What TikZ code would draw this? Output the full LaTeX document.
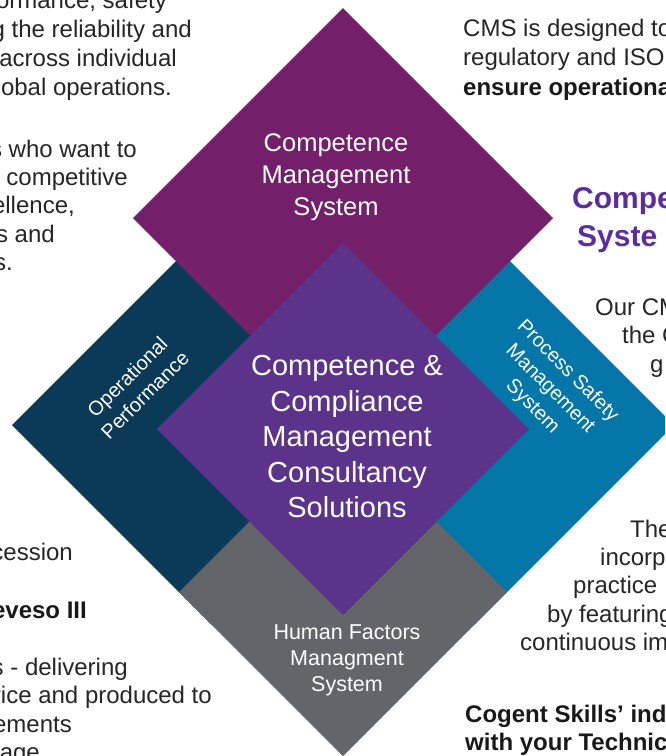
\documentclass[tikz,border=0pt]{standalone}
\usepackage{fontspec}
\setmainfont{Liberation Sans}
\definecolor{topPurple}{HTML}{731F6A}
\definecolor{midPurple}{HTML}{5C338A}
\definecolor{navyBlue}{HTML}{0A3A58}
\definecolor{oceanBlue}{HTML}{0476A8}
\definecolor{slateGrey}{HTML}{63656A}
\definecolor{headPurple}{HTML}{5B2D9E}
\definecolor{txt}{HTML}{262626}
\tikzset{
  leftcut/.style={anchor=base east, text=txt, inner sep=0pt, font=\fontsize{24}{29}\selectfont},
  rightcut/.style={anchor=base west, text=txt, inner sep=0pt, font=\fontsize{24}{29}\selectfont},
  boldtxt/.style={font=\fontsize{24}{29}\selectfont\bfseries, text=black!90},
  headtxt/.style={anchor=base west, inner sep=0pt, text=headPurple, font=\fontsize{30}{38}\selectfont\bfseries},
  dlabel/.style={text=white, align=center, inner sep=0pt},
}
\begin{document}
\begin{tikzpicture}[x=1pt,y=-1pt]
\useasboundingbox (0,0) rectangle (665,756);
\clip (0,0) rectangle (665,756);
\fill[white] (0,0) rectangle (665,756);

% diamonds
\fill[navyBlue] (12,425) -- (212,225) -- (412,425) -- (212,625) -- cycle;
\fill[oceanBlue] (674,425) -- (474,225) -- (274,425) -- (474,625) -- cycle;
\fill[topPurple] (343,8) -- (553,218) -- (343,428) -- (133,218) -- cycle;
\fill[slateGrey] (343,428) -- (507,592) -- (343,756) -- (179,592) -- cycle;
\fill[midPurple] (343,243) -- (529,429) -- (343,615) -- (157,429) -- cycle;

% diamond labels
\node[dlabel, font=\fontsize{25.5}{32}\selectfont] (cms) at (336,177) {Competence\\Management\\System};
\node[dlabel, font=\fontsize{29}{35.5}\selectfont] (core) at (347,437) {Competence \&\\Compliance\\Management\\Consultancy\\Solutions};
\node[dlabel, font=\fontsize{20}{25}\selectfont, rotate=45] (opp) at (136,386) {Operational\\Performance};
\node[dlabel, font=\fontsize{20}{25}\selectfont, rotate=-45] (psm) at (550,389) {Process Safety\\Management\\System};
\node[dlabel, font=\fontsize{21.5}{26}\selectfont] (hfm) at (347,660) {Human Factors\\Managment\\System};

% left column (cut at the left edge)
\node[leftcut] (l1) at (167,8.5) {ormance, safety};
\node[leftcut] (l2) at (192,37) {g the reliability and};
\node[leftcut] (l3) at (177,66) {across individual};
\node[leftcut] (l4) at (172,95) {obal operations.};
\node[leftcut] (l5) at (137,157) {s who want to};
\node[leftcut] (l6) at (128,185) {competitive};
\node[leftcut] (l7) at (75,213) {ellence,};
\node[leftcut] (l8) at (55,242) {s and};
\node[leftcut] (l9) at (13,270) {s.};
\node[leftcut] (l10) at (73,560) {cession};
\node[leftcut, boldtxt] (l11) at (87,618) {eveso III};
\node[leftcut] (l12) at (128,675) {s - delivering};
\node[leftcut] (l13) at (212,703) {rice and produced to};
\node[leftcut] (l14) at (72,732) {ements};
\node[leftcut] (l15) at (40,760) {rage};

% right column (cut at the right edge)
\node[rightcut] (r1) at (463,36) {CMS is designed to};
\node[rightcut] (r2) at (463,65) {regulatory and ISO};
\node[rightcut, boldtxt] (r3) at (463,95) {ensure operationa};
\node[headtxt] (h1) at (572,208) {Compe};
\node[headtxt] (h2) at (577,246) {Syste};
\node[rightcut] (r4) at (595,315) {Our CM};
\node[rightcut] (r5) at (622,343) {the C};
\node[rightcut] (r6) at (650,372) {g};
\node[rightcut] (r7) at (630,537) {The};
\node[rightcut] (r8) at (600,565) {incorp};
\node[rightcut] (r9) at (573,593) {practice};
\node[rightcut] (r10) at (547,622) {by featuring};
\node[rightcut] (r11) at (520,650) {continuous im};
\node[rightcut, boldtxt] (r12) at (465,722) {Cogent Skills’ ind};
\node[rightcut, boldtxt] (r13) at (465,750) {with your Technic};
\end{tikzpicture}
\end{document}
